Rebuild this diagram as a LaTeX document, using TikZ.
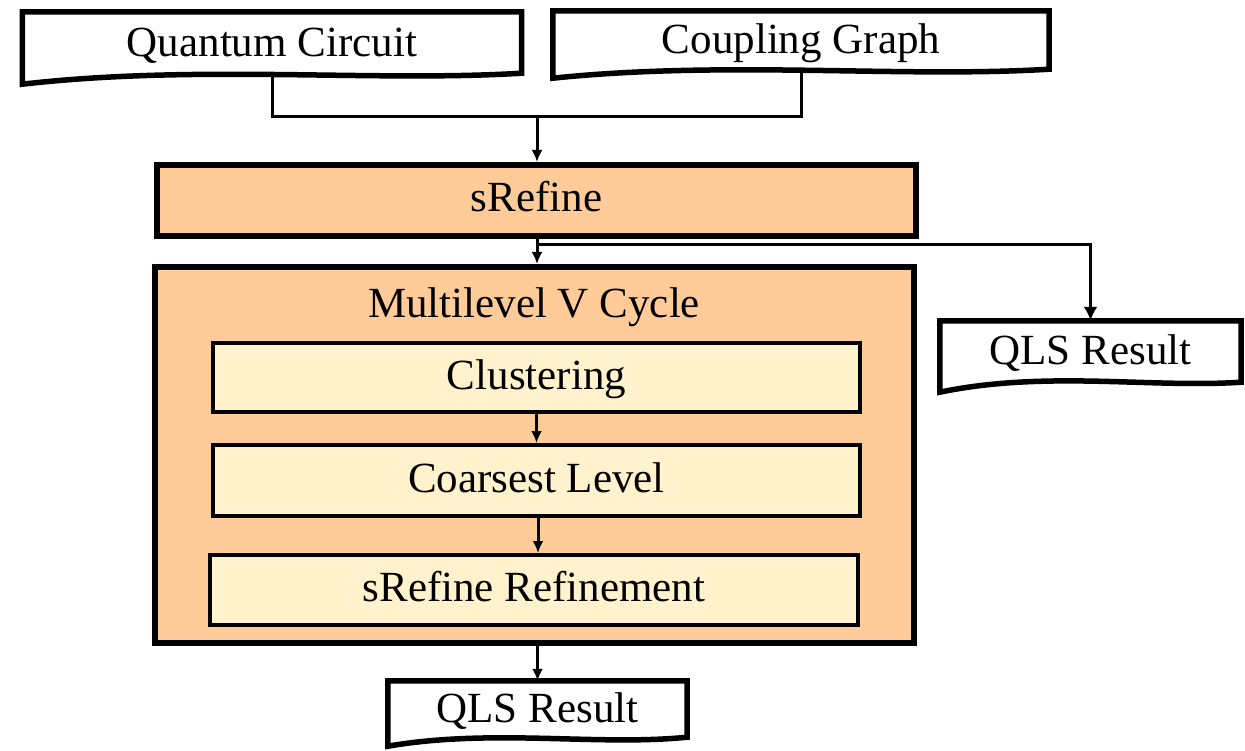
\documentclass[tikz,border=0pt]{standalone}
\usepackage{fontspec}
\setmainfont{Liberation Serif}
\usetikzlibrary{calc,arrows.meta,backgrounds}
\definecolor{outerfill}{HTML}{FFCC99}
\definecolor{innerfill}{HTML}{FFF2CC}
\tikzset{
  txt/.style={inner sep=0pt, text height=29pt, text depth=6pt, font=\fontsize{43}{50}\selectfont},
  docbox/.style={txt, draw=none},
  docline/.style={draw=black, line width=5.5pt, fill=white, line join=miter},
  mainbox/.style={txt, draw=black, line width=6pt, fill=outerfill},
  innerbox/.style={txt, draw=black, line width=4pt, fill=innerfill},
  conn/.style={draw=black, line width=3pt},
  arrowc/.style={conn, -{Latex[length=12pt,width=11pt]}},
  bigarrow/.style={conn, -{Latex[length=14pt,width=14pt]}},
}
% #1 node name, #2 left-bottom extra drop, #3 right-bottom rise
\newcommand{\docoutline}[3]{%
  \path[docline]
    let \p1=(#1.south west), \p2=(#1.south east), \n1={\x2-\x1} in
    (#1.north west) -- (#1.north east) -- ($(#1.south east)+(0,-#3)$)
    .. controls ($(\x1,\y1)+(0.7*\n1,-#2+10)$) and ($(\x1,\y1)+(0.35*\n1,-#2-8)$) ..
    ($(#1.south west)+(0,#2)$) -- cycle;%
}
\begin{document}
\begin{tikzpicture}[x=1pt,y=-1pt]
\useasboundingbox (0,0) rectangle (1245,751);

% document shaped nodes (text only; outline drawn on background)
\node[docbox, minimum width=499pt, minimum height=66pt] (qc) at (272,45) {Quantum Circuit};
\node[docbox, minimum width=496pt, minimum height=62pt] (cg) at (801,42) {Coupling Graph};
\node[docbox, minimum width=301pt, minimum height=64pt] (qlsr) at (1090.5,353) {QLS Result};
\node[docbox, minimum width=299pt, minimum height=60pt] (qlsb) at (537.5,711) {QLS Result};

% main boxes
\node[mainbox, minimum width=759pt, minimum height=71pt] (sr) at (536.5,200.5) {sRefine};
\node[mainbox, minimum width=759pt, minimum height=376pt] (ml) at (534.5,455) {};
\node[txt] (mlt) at (534,306) {Multilevel V Cycle};
\node[innerbox, minimum width=647pt, minimum height=69pt] (cl) at (536.5,377.5) {Clustering};
\node[innerbox, minimum width=647pt, minimum height=71pt] (co) at (536.5,480.5) {Coarsest Level};
\node[innerbox, minimum width=648pt, minimum height=70pt] (sr2) at (534,590) {sRefine Refinement};

\coordinate (j) at (537,117);
\coordinate (br) at (537,245);

\begin{pgfonlayer}{background}
  % merge of the two inputs
  \draw[conn] (qc.center) -- (qc.center |- j) -- (cg.center |- j) -- (cg.center);
  \docoutline{qc}{6}{5}
  \docoutline{cg}{5}{4}
  \docoutline{qlsr}{7}{3}
  \docoutline{qlsb}{5}{4}
\end{pgfonlayer}

% connectors
\draw[arrowc] (j) -- (j |- sr.north);
\draw[arrowc] (br |- sr.south) -- (br |- ml.north);
\draw[bigarrow] (br) -| (qlsr.north);
\draw[arrowc] (cl.south) -- (co.north);
\draw[arrowc] (co.south -| 538,0) -- (sr2.north -| 538,0);
\draw[arrowc] (qlsb.north |- ml.south) -- (qlsb.north);
\end{tikzpicture}
\end{document}
